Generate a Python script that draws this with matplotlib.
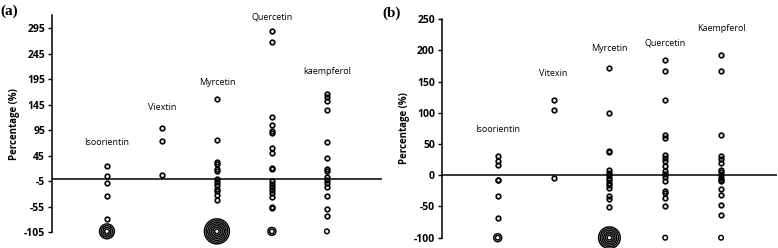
import matplotlib.pyplot as plt
import numpy as np

plt.rcParams['axes.unicode_minus'] = False
plt.rcParams['font.family'] = ['Open Sans', 'DejaVu Sans']

# categories and label positions (label y in data units)
cats_a = ['Isoorientin', 'Viextin', 'Myrcetin', 'Quercetin', 'kaempferol']
cats_b = ['Isoorientin', 'Vitexin', 'Myrcetin', 'Quercetin', 'Kaempferol']
label_y_a = [72, 139, 188, 318, 211]
label_y_b = [73, 163, 203, 212, 235]

# panel (a) values
iso_a = [26, 5, -8, -34, -79]
vit_a = [100, 75, 7]
myr_a = [157, 77, 33, 29, 19, 15, 0, -6, -12, -19, -24, -31, -42]
que_a = [289, 268, 121, 106, 93, 89, 60, 51, 22, 20, -5, -11, -16, -22,
         -28, -35, -55, -57]
kae_a = [166, 160, 152, 134, 73, 41, 20, 15, 3, -3, -8, -16, -34, -60, -72]
# number of points piled at the minimum (drawn as concentric rings)
pile_a = [4, 0, 7, 2, 1]
min_a = -103

# panel (b) values
iso_b = [31, 23, 16, -7, -8, -33, -68]
vit_b = [120, 105, -5]
myr_b = [171, 99, 39, 37, 8, 4, 0, -4, -8, -12, -16, -20, -34, -38, -51]
que_b = [184, 167, 121, 64, 60, 32, 27, 22, 14, 7, 2, -3, -10, -25, -28,
         -36, -49]
kae_b = [193, 167, 65, 30, 26, 19, 9, 5, 1, -5, -8, -10, -22, -31, -47, -63]
pile_b = [2, 0, 6, 1, 1]
min_b = -100

PX = 0.72  # points per pixel at dpi 100


def draw_panel(ax, series, piles, ymin_val, cats, label_y):
    for i, vals in enumerate(series):
        x = i + 1
        ax.plot(np.full(len(vals), x), vals, 'o', mfc='none', mec='black',
                ms=4.6 * PX, mew=1.7 * PX, clip_on=False, zorder=3)
        for k in range(piles[i]):
            d = (4.6 + 3.4 * k) * PX
            ax.scatter([x], [ymin_val], s=d ** 2, facecolors='none',
                       edgecolors='black', linewidths=1.5 * PX,
                       clip_on=False, zorder=3)
        ax.text(x, label_y[i], cats[i], ha='center', va='center',
                fontsize=6.5, clip_on=False)
    ax.axhline(0, color='black', lw=1.1, zorder=2)
    ax.set_xlim(0, 6)
    ax.set_xticks([])
    for s in ['top', 'right', 'bottom']:
        ax.spines[s].set_visible(False)
    ax.spines['left'].set_linewidth(1.1)
    ax.tick_params(axis='y', length=3, width=1.0, pad=2)
    for t in ax.get_yticklabels():
        t.set_fontweight('bold')
        t.set_fontsize(7.5)
    ax.set_ylabel('Percentage (%)', fontsize=7, fontweight='bold',
                  labelpad=3)


fig = plt.figure(figsize=(7.78, 2.48), dpi=100)

ax1 = fig.add_axes([0.0668, 0.063, 0.424, 0.876])
ax1.set_ylim(-105, 321)
ax1.set_yticks(np.arange(-105, 296, 50))
draw_panel(ax1, [iso_a, vit_a, myr_a, que_a, kae_a], pile_a, min_a,
           cats_a, label_y_a)

ax2 = fig.add_axes([0.568, 0.0415, 0.4306, 0.8817])
ax2.set_ylim(-100, 250)
ax2.set_yticks(np.arange(-100, 251, 50))
draw_panel(ax2, [iso_b, vit_b, myr_b, que_b, kae_b], pile_b, min_b,
           cats_b, label_y_b)

fig.text(0.001, 0.955, '(a)', fontsize=11, fontweight='bold',
         family='Liberation Serif', va='center')
fig.text(0.492, 0.945, '(b)', fontsize=11, fontweight='bold',
         family='Liberation Serif', va='center')

fig.savefig('out.png', dpi=100)
